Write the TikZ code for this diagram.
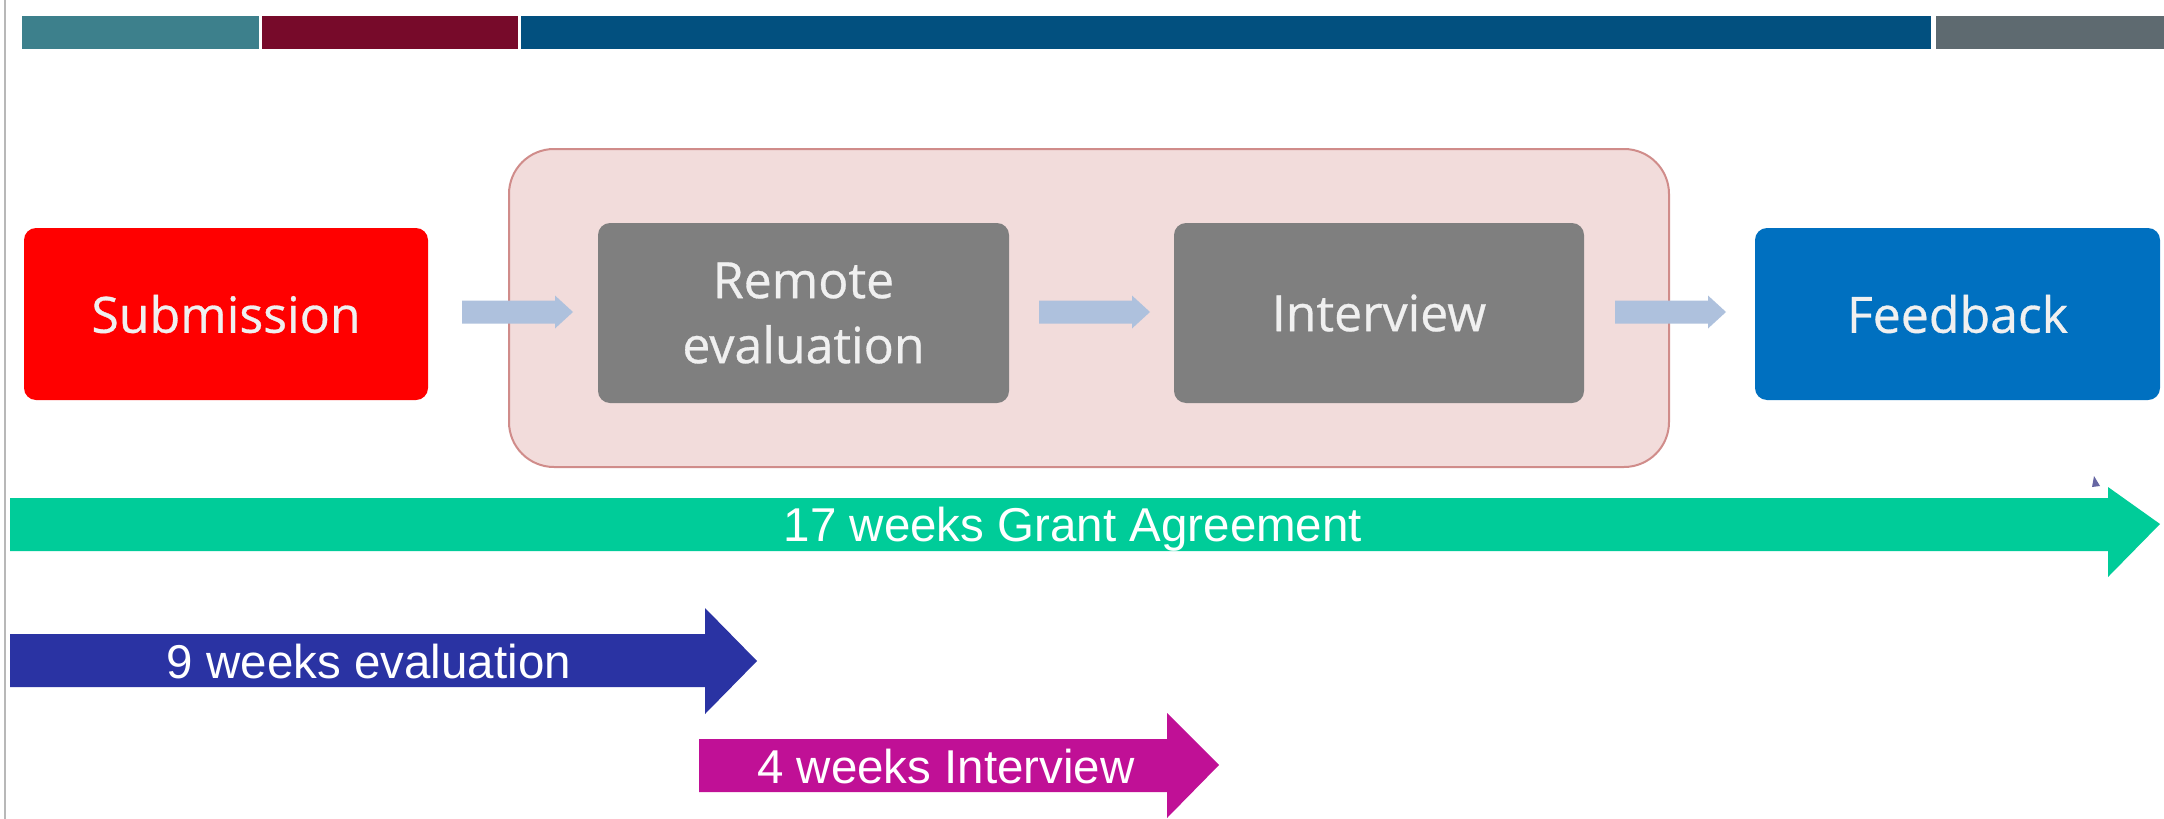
\documentclass[tikz,border=0pt]{standalone}
\usepackage{fontspec}
\usetikzlibrary{calc}
\setmainfont{Liberation Sans}
\newfontfamily\boxfont[FakeBold=0.6]{Open Sans}
\begin{document}
\begin{tikzpicture}[x=1pt,y=-1pt,
  stepbox/.style={draw=none,rounded corners=12pt,text=white!94!black,
    font=\boxfont\fontsize{50}{65}\selectfont,align=center,inner sep=0pt},
  flowarrow/.style={fill=arrowblue,draw=none},
  weektext/.style={text=white,font=\fontsize{47.5}{50}\selectfont,inner sep=0pt,anchor=base}
]
\definecolor{tealbar}{HTML}{3D808C}
\definecolor{maroonbar}{HTML}{770A2A}
\definecolor{bluebar}{HTML}{02507F}
\definecolor{graybar}{HTML}{5E6A70}
\definecolor{subred}{HTML}{FF0000}
\definecolor{stepgray}{HTML}{7F7F7F}
\definecolor{fbblue}{HTML}{0070C0}
\definecolor{pinkfill}{HTML}{F2DCDB}
\definecolor{pinkline}{HTML}{D08C8A}
\definecolor{arrowblue}{HTML}{AEC1DD}
\definecolor{gagreen}{HTML}{00CC99}
\definecolor{evblue}{HTML}{2A33A3}
\definecolor{ivmag}{HTML}{C01096}
\useasboundingbox (0,0) rectangle (2164,819);
\fill[white] (0,0) rectangle (2164,819);
% left thin line
\draw[line width=1.2pt,draw=black!28] (5,0) -- (5,819);
% top bars
\fill[tealbar] (22,16) rectangle (259,49);
\fill[maroonbar] (262,16) rectangle (518,49);
\fill[bluebar] (521,16) rectangle (1931,49);
\fill[graybar] (1936,16) rectangle (2164,49);
% container
\node[draw=pinkline,line width=2pt,fill=pinkfill,rounded corners=45pt,minimum width=1160pt,minimum height=318pt,inner sep=0pt] (grp) at (1089,308) {};
% boxes
\node[stepbox,fill=subred,minimum width=404pt,minimum height=172pt] (sub) at (226,314) {Submission};
\node[stepbox,fill=stepgray,minimum width=411pt,minimum height=180pt] (rem) at (803.5,313) {Remote\\evaluation};
\node[stepbox,fill=stepgray,minimum width=410pt,minimum height=180pt] (int) at (1379,313) {Interview};
\node[stepbox,fill=fbblue,minimum width=405pt,minimum height=172pt] (fb) at (1957.5,314) {Feedback};
% small flow arrows
\coordinate (a1s) at (462,312);
\coordinate (a2s) at (1039,312);
\coordinate (a3s) at (1615,312);
\foreach \s in {a1s,a2s,a3s}{
  \fill[flowarrow] ($(\s)+(0,-11.5)$) -- ++(93,0) -- ++(0,-5) -- ++(18,16.5) -- ++(-18,16.5) -- ++(0,-5) -- ++(-93,0) -- cycle;
}
% green arrow
\fill[gagreen] (10,498) -- (2108,498) -- (2108,487) -- (2160,524) -- (2108,577) -- (2108,551) -- (10,551) -- cycle;
\node[weektext] (gat) at (1073,541) {17 weeks Grant Agreement};
% small artifact
\fill[black!60!blue!60!white] (2094,476) -- (2100,486) -- (2092,487) -- cycle;
% blue arrow
\fill[evblue] (10,634) -- (705,634) -- (705,608) -- (757,661) -- (705,714) -- (705,687) -- (10,687) -- cycle;
\node[weektext] (evt) at (369,678) {9 weeks evaluation};
% magenta arrow
\fill[ivmag] (699,739) -- (1167,739) -- (1167,713) -- (1219,765) -- (1167,818) -- (1167,792) -- (699,792) -- cycle;
\node[weektext] (ivt) at (946,783) {4 weeks Interview};
\end{tikzpicture}
\end{document}
